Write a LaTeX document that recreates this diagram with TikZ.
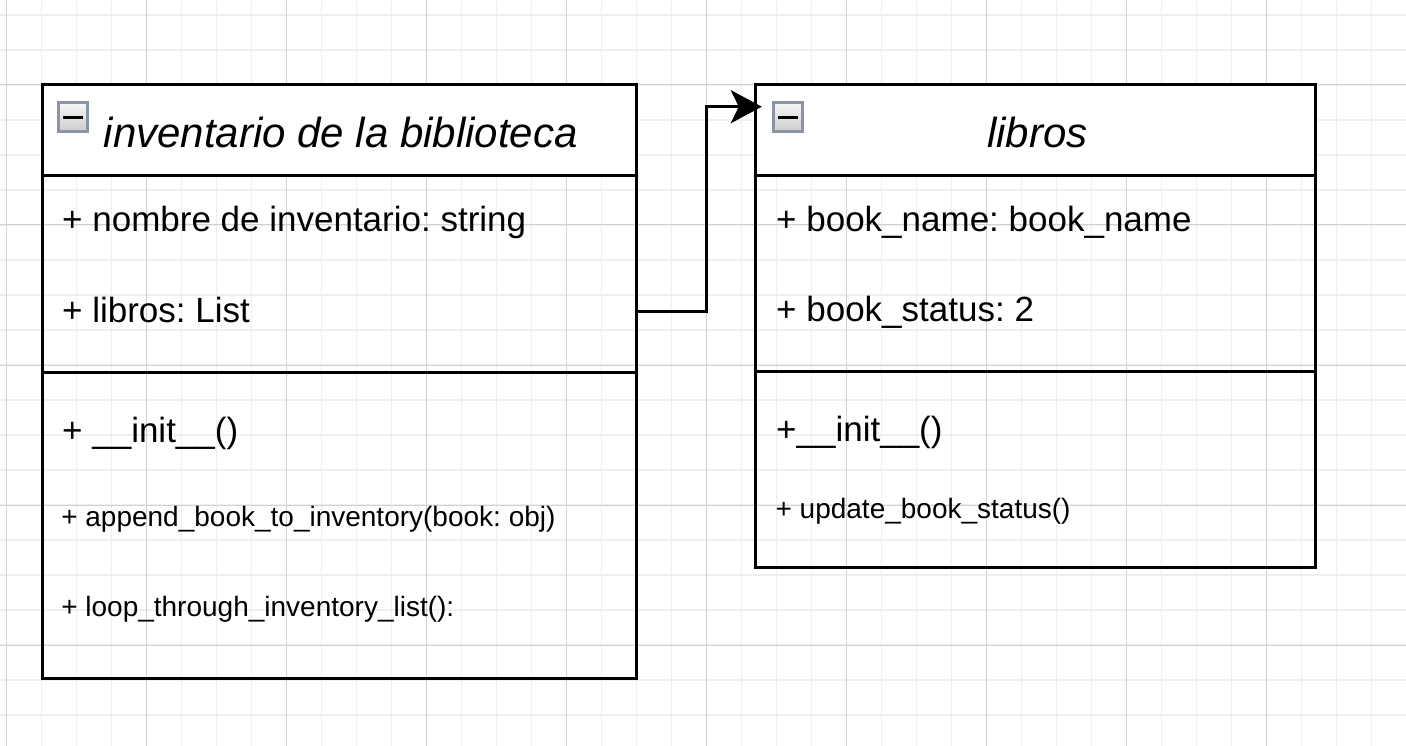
\documentclass[tikz,border=0pt]{standalone}
\usepackage{fontspec}
\setmainfont{Liberation Sans}
\usetikzlibrary{arrows.meta}
\frenchspacing
\definecolor{gridminor}{HTML}{EFEFEF}
\definecolor{gridmajor}{HTML}{D2D2D2}
\definecolor{iconborder}{HTML}{8C94A3}
\definecolor{icontop}{HTML}{F6F6F6}
\definecolor{iconbottom}{HTML}{CDCDCD}
\tikzset{
  classbox/.style={draw=black, line width=3pt, anchor=north west, inner sep=0pt, outer sep=0pt},
  headbox/.style={classbox, fill=white},
  umlicon/.style={draw=iconborder, line width=3pt, minimum size=28.5pt, inner sep=0pt,
    top color=icontop, bottom color=iconbottom,
    path picture={\fill[black] ([shift={(-9.7pt,-1.65pt)}]path picture bounding box.center) rectangle ++(19.4pt,3.3pt);}},
  classtitle/.style={font=\fontsize{42}{50}\selectfont\itshape, anchor=base, inner sep=0pt},
  member/.style={font=\fontsize{35}{42}\selectfont, anchor=base west, inner sep=0pt},
  smallmember/.style={font=\fontsize{28}{34}\selectfont, anchor=base west, inner sep=0pt},
  divider/.style={draw=black, line width=3pt},
  conn/.style={draw=black, line width=3pt, -{Stealth[length=31pt,width=33pt,inset=8pt]}},
}
\begin{document}
\begin{tikzpicture}[x=1pt,y=-1pt]
\useasboundingbox (0,0) rectangle (1406,746);
\fill[white] (0,0) rectangle (1406,746);
% grid
\foreach \k in {0,...,40} {\draw[gridminor, line width=1.5pt] ({6.7+35*\k},0) -- ({6.7+35*\k},746);}
\foreach \k in {0,...,21} {\draw[gridminor, line width=1.5pt] (0,{15+35*\k}) -- (1406,{15+35*\k});}
\foreach \k in {0,...,9} {\draw[gridmajor, line width=1pt] ({6.7+140*\k},0) -- ({6.7+140*\k},746);}
\foreach \k in {0,...,4} {\draw[gridmajor, line width=1pt] (0,{85+140*\k}) -- (1406,{85+140*\k});}

% class 1
\node[classbox, minimum width=594pt, minimum height=594pt] (inv) at (42.3,84.7) {};
\node[headbox, minimum width=594pt, minimum height=91.3pt] (invh) at (42.3,84.7) {};
\draw[divider] (inv.west |- 0,372) -- (inv.east |- 0,372);
\node[umlicon] (invicon) at (72.8,117.2) {};
\node[classtitle] (invtitle) at (340.8,147.7) {inventario de la biblioteca};
\node[member] (inva1) at (62,231.7) {+ nombre de inventario: string};
\node[member] (inva2) at (62,322.3) {+ libros: List};
\node[member] (invm1) at (62,442.7) {+ \_\_init\_\_()};
\node[smallmember] (invm2) at (61.1,526) {+ append\_book\_to\_inventory(book: obj)};
\node[smallmember] (invm3) at (61.1,616.7) {+ loop\_through\_inventory\_list():};

% class 2
\node[classbox, minimum width=560pt, minimum height=482.6pt] (lib) at (755.8,84.7) {};
\node[headbox, minimum width=560pt, minimum height=91.1pt] (libh) at (755.8,84.7) {};
\draw[divider] (lib.west |- 0,371.7) -- (lib.east |- 0,371.7);
\node[umlicon] (libicon) at (787.8,117.2) {};
\node[classtitle] (libtitle) at (1037.3,147.7) {libros};
\node[member] (liba1) at (776,231.7) {+ book\_name: book\_name};
\node[member] (liba2) at (776,321.9) {+ book\_status: 2};
\node[member] (libm1) at (776,441.9) {+\_\_init\_\_()};
\node[smallmember] (libm2) at (775.4,518.3) {+ update\_book\_status()};

% connector
\coordinate (src) at (inv.east |- 0,311.7);
\coordinate (dst) at (lib.west |- 0,106.7);
\draw[conn] (src) -- ++(70.4,0) |- ([xshift=6pt]dst);
\end{tikzpicture}
\end{document}
